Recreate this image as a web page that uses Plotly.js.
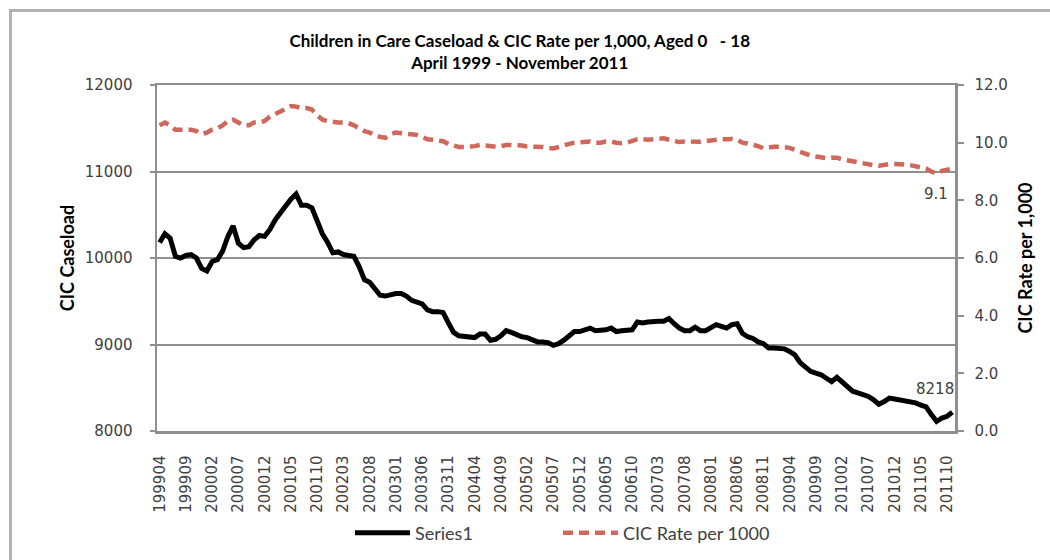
<!DOCTYPE html>
<html>
<head>
<meta charset="utf-8">
<script src="https://cdn.plot.ly/plotly-3.0.1.min.js"></script>
<style>
  html, body { margin: 0; padding: 0; background: #ffffff; }
  #wrap { position: relative; width: 1050px; height: 560px; overflow: hidden; }
  #chart { position: absolute; left: 0; top: 0; width: 1050px; height: 560px; }
  #frame { position: absolute; left: 9px; top: 9px; width: 1100px; height: 600px;
           border-left: 3px solid #b3b3b3; border-top: 3px solid #b3b3b3; pointer-events: none; }
</style>
</head>
<body>
<div id="wrap">
  <div id="chart"></div>
  <div id="frame"></div>
</div>
<script>
// Monthly categories, April 1999 - November 2011
const months = [
  "199904","199905","199906","199907","199908","199909","199910","199911","199912",
  "200001","200002","200003","200004","200005","200006","200007","200008","200009","200010","200011","200012",
  "200101","200102","200103","200104","200105","200106","200107","200108","200109","200110","200111","200112",
  "200201","200202","200203","200204","200205","200206","200207","200208","200209","200210","200211","200212",
  "200301","200302","200303","200304","200305","200306","200307","200308","200309","200310","200311","200312",
  "200401","200402","200403","200404","200405","200406","200407","200408","200409","200410","200411","200412",
  "200501","200502","200503","200504","200505","200506","200507","200508","200509","200510","200511","200512",
  "200601","200602","200603","200604","200605","200606","200607","200608","200609","200610","200611","200612",
  "200701","200702","200703","200704","200705","200706","200707","200708","200709","200710","200711","200712",
  "200801","200802","200803","200804","200805","200806","200807","200808","200809","200810","200811","200812",
  "200901","200902","200903","200904","200905","200906","200907","200908","200909","200910","200911","200912",
  "201001","201002","201003","201004","201005","201006","201007","201008","201009","201010","201011","201012",
  "201101","201102","201103","201104","201105","201106","201107","201108","201109","201110","201111"
];

// Tick labels shown on the x axis (every 5 months)
const tickLabels = [
  "199904","199909","200002","200007","200012","200105","200110","200203","200208","200301",
  "200306","200311","200404","200409","200502","200507","200512","200605","200610","200703",
  "200708","200801","200806","200811","200904","200909","201002","201007","201012","201105","201110"
];

// CIC caseload (Series1)
const caseload = [
  10180,10280,10230,10020,10000,10030,10040,10000,9880,9850,
  9960,9980,10080,10250,10370,10170,10120,10130,10210,10260,
  10250,10330,10440,10510,10600,10680,10740,10610,10610,10580,
  10430,10280,10180,10060,10070,10040,10030,10020,9900,9750,
  9720,9640,9570,9560,9580,9590,9590,9560,9510,9490,
  9470,9400,9380,9380,9370,9250,9140,9100,9090,9080,
  9080,9120,9120,9050,9060,9100,9160,9140,9110,9090,
  9080,9050,9030,9030,9020,8990,9010,9050,9110,9150,
  9150,9170,9190,9160,9160,9170,9190,9150,9160,9160,
  9170,9260,9250,9260,9270,9270,9270,9300,9240,9190,
  9160,9160,9200,9160,9160,9200,9230,9210,9190,9230,
  9240,9130,9090,9070,9030,9010,8960,8960,8960,8950,
  8920,8880,8790,8740,8690,8670,8650,8610,8570,8620,
  8560,8510,8460,8440,8420,8400,8360,8310,8340,8380,
  8370,8360,8350,8335,8325,8300,8280,8190,8110,8150,
  8170,8218
];

// CIC rate per 1,000
const cicRate = [
  10.6,10.7,10.6,10.45,10.45,10.45,10.45,10.4,10.3,10.35,
  10.45,10.5,10.6,10.75,10.8,10.7,10.6,10.6,10.7,10.7,
  10.75,10.9,11.0,11.1,11.2,11.27,11.25,11.2,11.2,11.15,
  10.95,10.8,10.75,10.72,10.7,10.7,10.68,10.6,10.5,10.4,
  10.35,10.25,10.2,10.17,10.3,10.35,10.33,10.3,10.28,10.27,
  10.2,10.12,10.1,10.08,10.05,9.95,9.88,9.85,9.85,9.85,
  9.88,9.92,9.9,9.86,9.86,9.88,9.92,9.92,9.92,9.9,
  9.87,9.87,9.87,9.85,9.82,9.8,9.85,9.92,9.96,10.0,
  10.02,10.04,10.04,10.0,10.0,10.04,10.04,10.0,9.98,10.0,
  10.05,10.12,10.12,10.1,10.12,10.15,10.15,10.1,10.05,10.02,
  10.04,10.03,10.03,10.03,10.05,10.08,10.1,10.12,10.12,10.13,
  10.1,10.0,9.97,9.93,9.88,9.8,9.84,9.86,9.86,9.85,
  9.82,9.75,9.67,9.6,9.55,9.52,9.48,9.46,9.48,9.48,
  9.42,9.38,9.35,9.32,9.28,9.26,9.22,9.2,9.24,9.26,
  9.26,9.26,9.24,9.22,9.18,9.14,9.1,9.0,8.93,9.02,
  9.06,9.1
];

const seriesNames = ["Series1", "CIC Rate per 1000"];

const axisGray = "#8f8f8f";
const tickFont = { family: "DejaVu Sans, Verdana, sans-serif", size: 15, color: "#404040" };
const titleFamily = "Lato, Calibri, 'Open Sans', sans-serif";
const legendFont = { family: titleFamily, size: 18, color: "#404040" };

const lastIdx = months.length - 1;

const traces = [
  {
    x: months, y: caseload, name: seriesNames[0], type: "scatter", mode: "lines",
    line: { color: "#000000", width: 5 }, yaxis: "y", legend: "legend", hoverinfo: "x+y"
  },
  {
    x: months, y: cicRate, name: seriesNames[1], type: "scatter", mode: "lines",
    line: { color: "#d0675d", width: 4.5, dash: "10px,6px" }, yaxis: "y2", legend: "legend2", hoverinfo: "x+y"
  }
];

const layout = {
  width: 1050, height: 560,
  margin: { l: 157, r: 95, t: 85, b: 129 },
  paper_bgcolor: "rgba(0,0,0,0)", plot_bgcolor: "#ffffff",
  showlegend: true,
  title: {
    text: "<b>Children in Care Caseload &amp; CIC Rate per 1,000, Aged 0 &nbsp; - 18<br>April 1999 - November 2011</b>",
    font: { family: titleFamily, size: 17, color: "#000000" },
    x: 0.495, xref: "container", xanchor: "center",
    y: 1 - 47 / 560, yref: "container", yanchor: "middle"
  },
  xaxis: {
    type: "category", categoryorder: "array", categoryarray: months,
    range: [-0.5, lastIdx + 0.5],
    tickmode: "array", tickvals: tickLabels, ticktext: tickLabels,
    tickangle: -90, tickfont: tickFont, ticks: "", ticklabelstandoff: 16,
    showgrid: false, zeroline: false,
    showline: true, linecolor: axisGray, linewidth: 2.5, mirror: true
  },
  yaxis: {
    range: [8000, 12000], dtick: 1000, tick0: 8000, tickformat: "d",
    tickfont: tickFont, ticks: "outside", ticklen: 5, tickcolor: axisGray, tickwidth: 2,
    ticklabelstandoff: 14,
    showgrid: true, gridcolor: axisGray, gridwidth: 2, zeroline: false,
    showline: true, linecolor: axisGray, linewidth: 2.5,
    title: { text: "<b>CIC Caseload</b>", font: { family: titleFamily, size: 18, color: "#000000" }, standoff: 6 }
  },
  yaxis2: {
    overlaying: "y", side: "right",
    range: [0, 12], dtick: 2, tick0: 0, tickformat: ".1f",
    tickfont: tickFont, ticks: "outside", ticklen: 6, tickcolor: axisGray, tickwidth: 2,
    ticklabelstandoff: 8,
    showgrid: false, zeroline: false,
    showline: true, linecolor: axisGray, linewidth: 2.5,
    title: { text: "<b>CIC Rate per 1,000</b>", font: { family: titleFamily, size: 18, color: "#000000" }, standoff: 13 }
  },
  legend: {
    orientation: "h", xref: "container", yref: "container",
    x: 350 / 1050, xanchor: "left", y: 1 - 533 / 560, yanchor: "middle",
    itemwidth: 55, font: legendFont, bgcolor: "rgba(0,0,0,0)"
  },
  legend2: {
    orientation: "h", xref: "container", yref: "container",
    x: 558 / 1050, xanchor: "left", y: 1 - 533 / 560, yanchor: "middle",
    itemwidth: 55, font: legendFont, bgcolor: "rgba(0,0,0,0)"
  },
  annotations: [
    {
      x: lastIdx, y: cicRate[lastIdx], xref: "x", yref: "y2",
      text: cicRate[lastIdx].toFixed(1), showarrow: false,
      xanchor: "right", yanchor: "middle", xshift: -2, yshift: -25,
      font: { family: "DejaVu Sans, Verdana, sans-serif", size: 15, color: "#404040" }
    },
    {
      x: lastIdx, y: caseload[lastIdx], xref: "x", yref: "y",
      text: String(caseload[lastIdx]), showarrow: false,
      xanchor: "right", yanchor: "middle", xshift: 4, yshift: 23,
      font: { family: "DejaVu Sans, Verdana, sans-serif", size: 15, color: "#404040" }
    }
  ]
};

Plotly.newPlot("chart", traces, layout, { displayModeBar: false, staticPlot: true });
</script>
</body>
</html>
